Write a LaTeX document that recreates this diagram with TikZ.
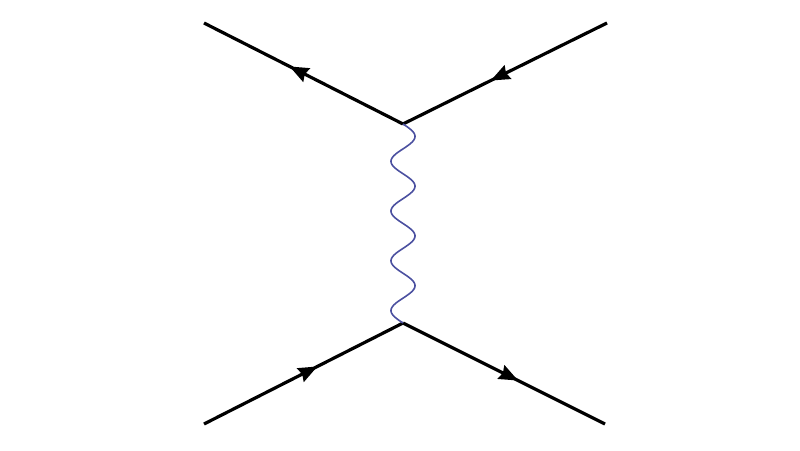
\documentclass[tikz,border=0pt]{standalone}
\usetikzlibrary{decorations.markings,arrows.meta}
\definecolor{wavecol}{RGB}{75,80,160}
\begin{document}
\begin{tikzpicture}[x=1pt,y=-1pt,
  fermion/.style={line width=3.2pt,black,line cap=butt,
    postaction={decorate,decoration={markings,
      mark=at position 0.57 with {\arrow{Stealth[length=19pt,width=15pt,inset=2pt]}}}}},
  photon/.style={line width=1.6pt,wavecol}]
\useasboundingbox (0,0) rectangle (800,450);
\coordinate (v1) at (403,124);
\coordinate (v2) at (403,323);
\coordinate (tl) at (204,23);
\coordinate (tr) at (607,23);
\coordinate (bl) at (204,424);
\coordinate (br) at (605,424);
\draw[fermion] (v1) -- (tl);
\draw[fermion] (tr) -- (v1);
\draw[fermion] (bl) -- (v2);
\draw[fermion] (v2) -- (br);
\draw[photon] (v1) -- plot[domain=0:1,samples=240,smooth] ({403+12*sin(1440*\x)},{124+199*\x}) -- (v2);
\end{tikzpicture}
\end{document}
